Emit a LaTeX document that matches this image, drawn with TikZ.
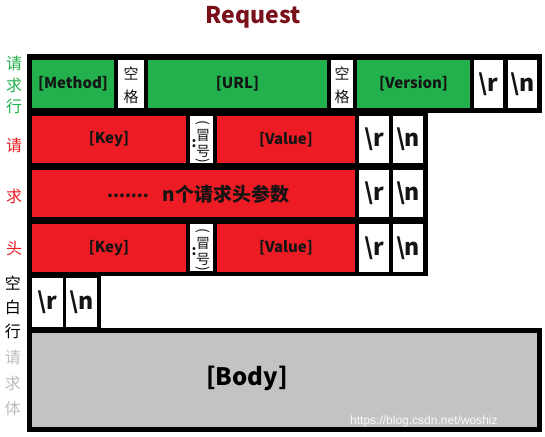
\documentclass[tikz,border=0pt]{standalone}
\usepackage{fontspec}
\setmainfont{Noto Sans CJK SC}
\newfontfamily\wmfont{Liberation Sans}
\definecolor{rgreen}{HTML}{22B14C}
\definecolor{rred}{HTML}{ED1C24}
\definecolor{rgray}{HTML}{C3C3C3}
\definecolor{lgray}{HTML}{BDBDBD}
\definecolor{ttl}{HTML}{7A1019}
\definecolor{ink}{HTML}{141414}
\tikzset{
  cellsty/.style={rectangle,inner sep=0pt,outer sep=0pt,text=ink,font=\bfseries\fontsize{15}{17}\selectfont},
  crlf/.style={font=\bfseries\fontsize{23}{26}\selectfont},
  sidelbl/.style={inner sep=0pt,font=\fontsize{16}{17}\selectfont},
  smallch/.style={inner sep=0pt,text=ink,font=\fontsize{15}{16}\selectfont},
  colch/.style={inner sep=0pt,text=ink,font=\fontsize{14}{15}\selectfont},
}
% name, x1, y1, x2, y2, fill, options, text
\newcommand\rcell[8]{\node[cellsty,fill=#6,minimum width={#4pt-#2pt},minimum height={#5pt-#3pt},#7] (#1) at ({(#2+#4)/2},{(#3+#5)/2}) {#8};}
% blank cell "空格": name, x1, x2
\newcommand\spacecell[3]{%
  \rcell{#1}{#2}{60}{#3}{108}{white}{}{}%
  \node[smallch] (#1a) at ({(#2+#3)/2},73) {空};
  \node[smallch] (#1b) at ({(#2+#3)/2},97) {格};}
% colon cell: name, x1, y1
\newcommand\coloncell[3]{%
  \rcell{#1}{#2}{#3}{#2+23}{#3+47}{white}{}{}%
  \node[colch,rotate=-90] (#1p) at ({#2+13},{#3+7}) {(};
  \node[colch] (#1m) at ({#2+13},{#3+19}) {冒};
  \node[colch,font=\bfseries\fontsize{14}{15}\selectfont] (#1c) at ({#2+4},{#3+28}) {:};
  \node[colch] (#1h) at ({#2+13},{#3+35}) {号};
  \node[colch,rotate=-90] (#1q) at ({#2+13},{#3+45}) {)};}
\begin{document}
\begin{tikzpicture}[x=1pt,y=-1pt]
\useasboundingbox (0,0) rectangle (545,436);
% title
\node[text=ttl,font=\bfseries\fontsize{23}{26}\selectfont] (title) at (253,17) {Request};
% side labels
\node[sidelbl,text=rgreen] (l1) at (14,63) {请};
\node[sidelbl,text=rgreen] (l2) at (14,85) {求};
\node[sidelbl,text=rgreen] (l3) at (14,106) {行};
\node[sidelbl,text=rred] (l4) at (14,145) {请};
\node[sidelbl,text=rred] (l5) at (14,196) {求};
\node[sidelbl,text=rred] (l6) at (14,248) {头};
\node[sidelbl,text=black] (l7) at (13,283) {空};
\node[sidelbl,text=black] (l8) at (13,307) {白};
\node[sidelbl,text=black] (l9) at (13,331) {行};
\node[sidelbl,text=lgray] (l10) at (13,357) {请};
\node[sidelbl,text=lgray] (l11) at (13,383) {求};
\node[sidelbl,text=lgray] (l12) at (13,408) {体};
% black frames
\fill[black] (27,54) rectangle (542,113);
\fill[black] (27,111) rectangle (428,276);
\fill[black] (27,272) rectangle (101,332);
\fill[black] (27,328) rectangle (542,432);
% request line
\rcell{method}{32}{60}{114}{108}{rgreen}{}{[Method]}
\spacecell{spa}{118}{144}
\rcell{url}{148}{60}{327}{108}{rgreen}{}{[URL]}
\spacecell{spb}{331}{353}
\rcell{version}{357}{60}{470}{108}{rgreen}{}{[Version]}
\rcell{ra}{474}{60}{503}{108}{white}{crlf}{\textbackslash r}
\rcell{na}{508}{60}{537}{108}{white}{crlf}{\textbackslash n}
% header 1
\rcell{keya}{32}{116}{186}{163}{rred}{}{[Key]}
\coloncell{cola}{190}{116}
\rcell{vala}{217}{116}{355}{163}{rred}{}{[Value]}
\rcell{rb}{359}{116}{389}{163}{white}{crlf}{\textbackslash r}
\rcell{nb}{393}{116}{423}{163}{white}{crlf}{\textbackslash n}
% header n
\rcell{params}{32}{170}{355}{217}{rred}{}{}
\node[cellsty,font=\bfseries\fontsize{17}{19}\selectfont] (dots) at (128,196) {.......};
\node[cellsty,font=\bfseries\fontsize{19}{21}\selectfont] (ntext) at (226,194) {n个请求头参数};
\rcell{rc}{359}{170}{389}{217}{white}{crlf}{\textbackslash r}
\rcell{nc}{393}{170}{423}{217}{white}{crlf}{\textbackslash n}
% header 2
\rcell{keyb}{32}{224}{186}{272}{rred}{}{[Key]}
\coloncell{colb}{190}{224}
\rcell{valb}{217}{224}{355}{272}{rred}{}{[Value]}
\rcell{rd}{359}{224}{389}{272}{white}{crlf}{\textbackslash r}
\rcell{nd}{393}{224}{423}{272}{white}{crlf}{\textbackslash n}
% empty line
\rcell{re}{32}{278}{63}{327}{white}{crlf}{\textbackslash r}
\rcell{ne}{66}{278}{97}{327}{white}{crlf}{\textbackslash n}
% body
\rcell{body}{32}{333}{537}{427}{rgray}{}{}
\node[cellsty,text=black,font=\bfseries\fontsize{24}{28}\selectfont] (bodytext) at (247,378) {[Body]};
% watermark
\node[anchor=base west,inner sep=0pt,text=white,opacity=0.9,font=\wmfont\fontsize{12}{14}\selectfont] (wm) at (350,424) {https://blog.csdn.net/woshiz};
\end{tikzpicture}
\end{document}
